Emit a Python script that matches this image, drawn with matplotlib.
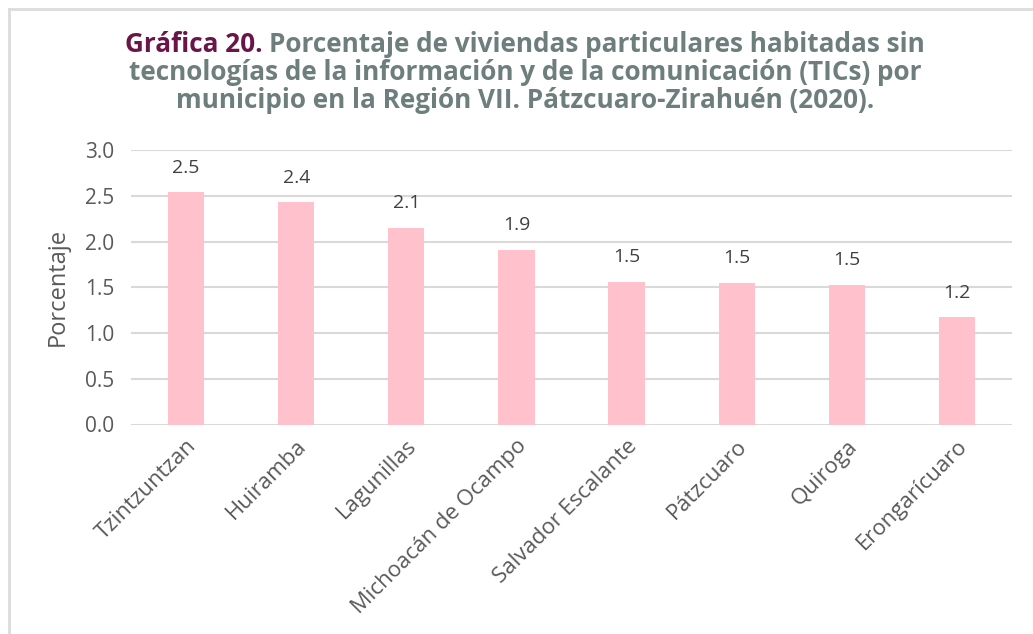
import matplotlib
matplotlib.use("Agg")
import matplotlib.pyplot as plt
from matplotlib.lines import Line2D

categories = ["Tzintzuntzan", "Huiramba", "Lagunillas", "Michoacán de Ocampo",
              "Salvador Escalante", "Pátzcuaro", "Quiroga", "Erongarícuaro"]
values = [2.54, 2.43, 2.15, 1.91, 1.56, 1.55, 1.53, 1.17]
value_labels = ["2.5", "2.4", "2.1", "1.9", "1.5", "1.5", "1.5", "1.2"]
yticks = [0.0, 0.5, 1.0, 1.5, 2.0, 2.5, 3.0]
ytick_labels = ["0.0", "0.5", "1.0", "1.5", "2.0", "2.5", "3.0"]

title_prefix = "Gráfica 20. "
title_line1 = "Porcentaje de viviendas particulares habitadas sin"
title_line2 = "tecnologías de la información y de la comunicación (TICs) por"
title_line3 = "municipio en la Región VII. Pátzcuaro-Zirahuén (2020)."

FONT = "Open Sans"
TFONT = "Open Sans"
W, H = 1033, 634
fig = plt.figure(figsize=(W / 100, H / 100), dpi=100)
fig.patch.set_facecolor("white")

# frame border (top and left)
fig.add_artist(Line2D([8.5 / W, 1], [1 - 8.5 / H, 1 - 8.5 / H], color="#dcdcdc", lw=2, transform=fig.transFigure))
fig.add_artist(Line2D([8.5 / W, 8.5 / W], [0, 1 - 8.5 / H], color="#dcdcdc", lw=2, transform=fig.transFigure))

ax = fig.add_axes([131 / W, 1 - 424.5 / H, (1012 - 131) / W, (424.5 - 150) / H])
x = list(range(len(categories)))
ax.bar(x, values, width=0.33, color="#FFC2CD", zorder=3)
ax.set_xlim(-0.5, len(categories) - 0.5)
ax.set_ylim(0, 3.0)
ax.set_yticks(yticks)
ax.set_yticklabels(ytick_labels, fontfamily=FONT, fontsize=15, color="#595959")
ax.set_xticks(x)
ax.set_xticklabels(categories, rotation=45, ha="right", rotation_mode="anchor",
                   fontfamily=FONT, fontsize=16, color="#595959")
ax.tick_params(axis="both", length=0)
ax.tick_params(axis="y", pad=12)
ax.tick_params(axis="x", pad=8)
ax.grid(axis="y", color="#d9d9d9", lw=1.5, zorder=0)
for s in ["top", "right", "left", "bottom"]:
    ax.spines[s].set_visible(False)
ax.set_ylabel("Porcentaje", fontfamily=FONT, fontsize=17, color="#595959", labelpad=11)

for xi, v, lab in zip(x, values, value_labels):
    ax.annotate(lab, (xi, v), xytext=(0, 11), textcoords="offset points",
                ha="center", va="bottom", fontfamily=FONT, fontsize=14, color="#404040")

# Title
tsize = 18.8
magenta = "#6A1547"
grey = "#6E7E7D"
fig.canvas.draw()
r = fig.canvas.get_renderer()
y1 = 1 - 44 / H
t_pre = fig.text(0, y1, title_prefix, fontfamily=TFONT, fontweight="bold", fontsize=tsize, color=magenta, va="center", ha="left")
t_rest = fig.text(0, y1, title_line1, fontfamily=TFONT, fontweight="bold", fontsize=tsize, color=grey, va="center", ha="left")
w_pre = t_pre.get_window_extent(r).width
w_rest = t_rest.get_window_extent(r).width
total = w_pre + w_rest
cx = 525
start = cx - total / 2
t_pre.set_x(start / W)
t_rest.set_x((start + w_pre) / W)
fig.text(cx / W, 1 - 72.5 / H, title_line2, fontfamily=TFONT, fontweight="bold", fontsize=tsize, color=grey, va="center", ha="center")
fig.text(cx / W, 1 - 101 / H, title_line3, fontfamily=TFONT, fontweight="bold", fontsize=tsize, color=grey, va="center", ha="center")

fig.savefig("out.png", dpi=100, facecolor="white")
